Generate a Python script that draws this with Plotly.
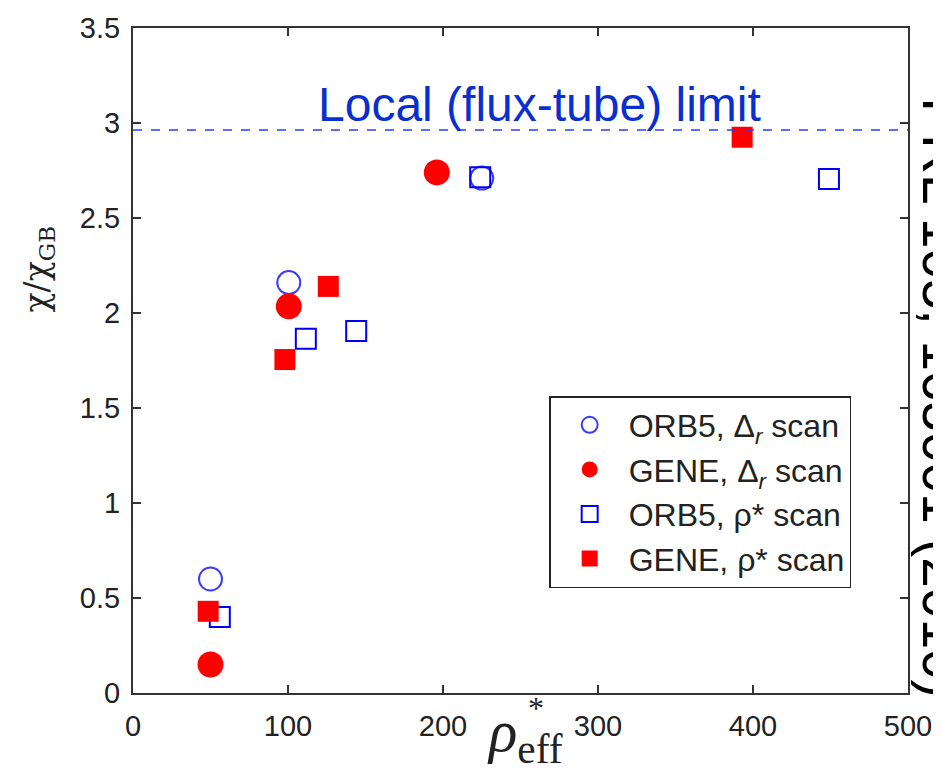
import plotly.graph_objects as go

# ---- data ----
orb5_dr_x = [50, 100.5, 225]
orb5_dr_y = [0.60, 2.16, 2.71]

gene_dr_x = [50, 100.5, 196]
gene_dr_y = [0.15, 2.035, 2.74]

orb5_rho_x = [56, 111.5, 144, 224, 449]
orb5_rho_y = [0.40, 1.865, 1.905, 2.715, 2.705]

gene_rho_x = [48.5, 98, 126, 393]
gene_rho_y = [0.43, 1.755, 2.14, 2.925]

local_limit = 2.963
x_ticks = [0, 100, 200, 300, 400, 500]
y_ticks = [0, 0.5, 1, 1.5, 2, 2.5, 3, 3.5]

fig = go.Figure()

# drawing order: ORB5 circles, ORB5 squares, GENE circles, GENE squares
fig.add_trace(go.Scatter(
    x=orb5_dr_x, y=orb5_dr_y, mode="markers",
    name="ORB5, Δ<sub><i>r</i></sub> scan", legendgroup="a", legendrank=1,
    marker=dict(symbol="circle-open", size=23, color="#3b3bff", line=dict(width=2, color="#3b3bff"))))
fig.add_trace(go.Scatter(
    x=orb5_rho_x, y=orb5_rho_y, mode="markers",
    name="ORB5, ρ* scan", legendgroup="c", legendrank=3,
    marker=dict(symbol="square-open", size=20, color="#0000f0", line=dict(width=2, color="#0000f0"))))
fig.add_trace(go.Scatter(
    x=gene_dr_x, y=gene_dr_y, mode="markers",
    name="GENE, Δ<sub><i>r</i></sub> scan", legendgroup="b", legendrank=2,
    marker=dict(symbol="circle", size=26, color="#ff0000", line=dict(width=0))))
fig.add_trace(go.Scatter(
    x=gene_rho_x, y=gene_rho_y, mode="markers",
    name="GENE, ρ* scan", legendgroup="d", legendrank=4,
    marker=dict(symbol="square", size=21, color="#ff0000", line=dict(width=0))))

# local limit dashed line
fig.add_hline(y=local_limit, line=dict(color="#2a3cff", width=1.6, dash="dash"))

fig.add_annotation(x=262, y=3.10, xref="x", yref="y", text="Local (flux-tube) limit",
                   showarrow=False, font=dict(family="Liberation Sans", size=48, color="#0a2fd0"),
                   xanchor="center", yanchor="middle")

# axis titles
fig.add_annotation(x=-0.152, y=0.638, xref="paper", yref="paper",
                   text="χ/χ<sub>GB</sub>", textangle=-90, showarrow=False,
                   font=dict(family="DejaVu Serif", size=33, color="#222222"))
fig.add_annotation(x=0.506, y=-0.122, xref="paper", yref="paper",
                   text="<i>ρ</i><sub>eff</sub>", showarrow=False,
                   font=dict(family="Liberation Serif", size=59, color="#222222"))
fig.add_annotation(x=0.52, y=-0.052, xref="paper", yref="paper",
                   text="*", showarrow=False,
                   font=dict(family="Liberation Serif", size=32, color="#222222"))

# citation, rotated, clipped at right edge
fig.add_annotation(x=1.087, y=0.4436, xref="paper", yref="paper",
                   text="PRL 105, 165001 (2010)", textangle=90, showarrow=False,
                   font=dict(family="Liberation Sans", size=55, color="#000000"))

axis_common = dict(showline=True, linecolor="#333333", linewidth=2, mirror="ticks",
                   ticks="inside", ticklen=8, tickwidth=2, tickcolor="#333333",
                   showgrid=False, zeroline=False, automargin=False,
                   tickfont=dict(family="Liberation Sans", size=29, color="#222222"))

fig.update_xaxes(range=[0, 500], tickvals=x_ticks, ticklabelstandoff=6, **axis_common)
fig.update_yaxes(range=[0, 3.5], tickvals=y_ticks, ticklabelstandoff=5, **axis_common)

fig.update_layout(
    width=941, height=772,
    margin=dict(l=125, r=41, t=20, b=87, autoexpand=False),
    plot_bgcolor="white", paper_bgcolor="white",
    showlegend=True,
    legend=dict(x=0.537, y=0.4466, xanchor="left", yanchor="top",
                bordercolor="#222222", borderwidth=1.5, bgcolor="white",
                font=dict(family="Liberation Sans", size=32, color="#222222"),
                itemwidth=68, tracegroupgap=0, itemsizing="trace"),
)

fig.write_html("out.html")
